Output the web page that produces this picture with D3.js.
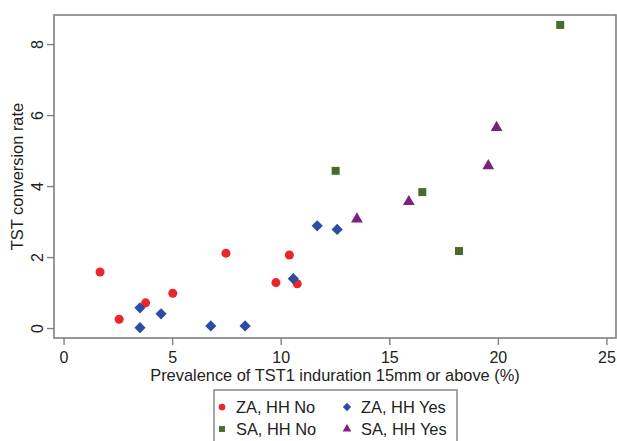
<!DOCTYPE html>
<html>
<head>
<meta charset="utf-8">
<script src="https://cdn.jsdelivr.net/npm/d3@7"></script>
<style>
  html, body { margin: 0; padding: 0; background: #fff; }
  svg { display: block; font-family: "Liberation Sans", Arial, Helvetica, sans-serif; }
</style>
</head>
<body>
<svg id="chart" width="617" height="441"></svg>
<script>
// TST conversion rate vs prevalence of TST1 induration >= 15mm, by site and household contact
const zaNoX  = [1.68, 2.56, 3.78, 5.03, 7.48, 9.78, 10.40, 10.76];
const zaNoY  = [1.58, 0.25, 0.71, 0.98, 2.11, 1.28, 2.06, 1.25];
const zaYesX = [3.52, 3.52, 4.49, 6.78, 8.36, 10.58, 11.68, 12.60];
const zaYesY = [0.57, 0.01, 0.40, 0.06, 0.06, 1.39, 2.88, 2.78];
const saNoX  = [12.53, 16.52, 18.21, 22.87];
const saNoY  = [4.43, 3.83, 2.17, 8.54];
const saYesX = [13.51, 15.90, 19.56, 19.94];
const saYesY = [3.07, 3.56, 4.57, 5.65];

const xTicks = [0, 5, 10, 15, 20, 25];
const yTicks = [0, 2, 4, 6, 8];

const seriesNames = ["ZA, HH No", "ZA, HH Yes", "SA, HH No", "SA, HH Yes"];

const series = [
  { name: seriesNames[0], xs: zaNoX,  ys: zaNoY,  color: "#e8262b", symbol: d3.symbolCircle,   size: 64 },
  { name: seriesNames[1], xs: zaYesX, ys: zaYesY, color: "#2b4ea2", symbol: d3.symbolDiamond2, size: 80 },
  { name: seriesNames[2], xs: saNoX,  ys: saNoY,  color: "#4b6a2c", symbol: d3.symbolSquare,   size: 64 },
  { name: seriesNames[3], xs: saYesX, ys: saYesY, color: "#7d1f7f", symbol: d3.symbolTriangle, size: 60 }
];

const svg = d3.select("#chart");
const plot = { left: 54, top: 15, right: 616, bottom: 338 };

const x = d3.scaleLinear().domain([-0.44, 25.44]).range([plot.left, plot.right]);
const y = d3.scaleLinear().domain([-0.28, 8.82]).range([plot.bottom, plot.top]);

const axisColor = "#808080";
const textColor = "#222";
const fontSize = "16.4px";
const tickFont = "16px";

// plot frame
svg.append("rect")
  .attr("x", plot.left).attr("y", plot.top)
  .attr("width", plot.right - plot.left).attr("height", plot.bottom - plot.top)
  .attr("fill", "#fff").attr("stroke", axisColor).attr("stroke-width", 1.6);

// x axis
const xAxis = svg.append("g")
  .attr("transform", `translate(0,${plot.bottom})`)
  .call(d3.axisBottom(x).tickValues(xTicks).tickSize(7).tickPadding(7).tickFormat(d3.format("d")));
xAxis.select(".domain").remove();
xAxis.selectAll(".tick line").attr("stroke", axisColor).attr("stroke-width", 1.4);
xAxis.selectAll(".tick text").attr("fill", textColor).style("font-size", tickFont);

// y axis, labels rotated
const yAxis = svg.append("g")
  .attr("transform", `translate(${plot.left},0)`)
  .call(d3.axisLeft(y).tickValues(yTicks).tickSize(7).tickFormat(d3.format("d")));
yAxis.select(".domain").remove();
yAxis.selectAll(".tick line").attr("stroke", axisColor).attr("stroke-width", 1.4);
yAxis.selectAll(".tick text")
  .attr("fill", textColor).style("font-size", tickFont)
  .attr("x", null)
  .attr("text-anchor", "middle")
  .attr("transform", "translate(-17,0) rotate(-90)")
  .attr("dy", "0.36em");

// axis titles
svg.append("text")
  .attr("x", (plot.left + plot.right) / 2).attr("y", 381)
  .attr("text-anchor", "middle").attr("fill", textColor)
  .style("font-size", fontSize)
  .text("Prevalence of TST1 induration 15mm or above (%)");

svg.append("text")
  .attr("transform", `translate(23,${(plot.top + plot.bottom) / 2}) rotate(-90)`)
  .attr("text-anchor", "middle").attr("fill", textColor)
  .style("font-size", fontSize)
  .text("TST conversion rate");

// markers
series.forEach(s => {
  const sym = d3.symbol().type(s.symbol).size(s.size);
  svg.append("g").selectAll("path")
    .data(s.xs.map((v, i) => [v, s.ys[i]]))
    .join("path")
    .attr("d", sym)
    .attr("transform", d => `translate(${x(d[0])},${y(d[1])})`)
    .attr("fill", s.color);
});

// legend
const legend = svg.append("g");
legend.append("rect")
  .attr("x", 214).attr("y", 390).attr("width", 243).attr("height", 60)
  .attr("fill", "#fff").attr("stroke", axisColor).attr("stroke-width", 1.4);

const legendPos = [[222, 407], [347, 407], [222, 429], [347, 429]];
series.forEach((s, i) => {
  const [lx, ly] = legendPos[i];
  legend.append("path")
    .attr("d", d3.symbol().type(s.symbol).size(s.size * 0.55)())
    .attr("transform", `translate(${lx},${ly})`)
    .attr("fill", s.color);
  legend.append("text")
    .attr("x", lx + 14).attr("y", ly).attr("dy", "0.36em")
    .attr("fill", textColor).style("font-size", fontSize)
    .text(s.name);
});
</script>
</body>
</html>
